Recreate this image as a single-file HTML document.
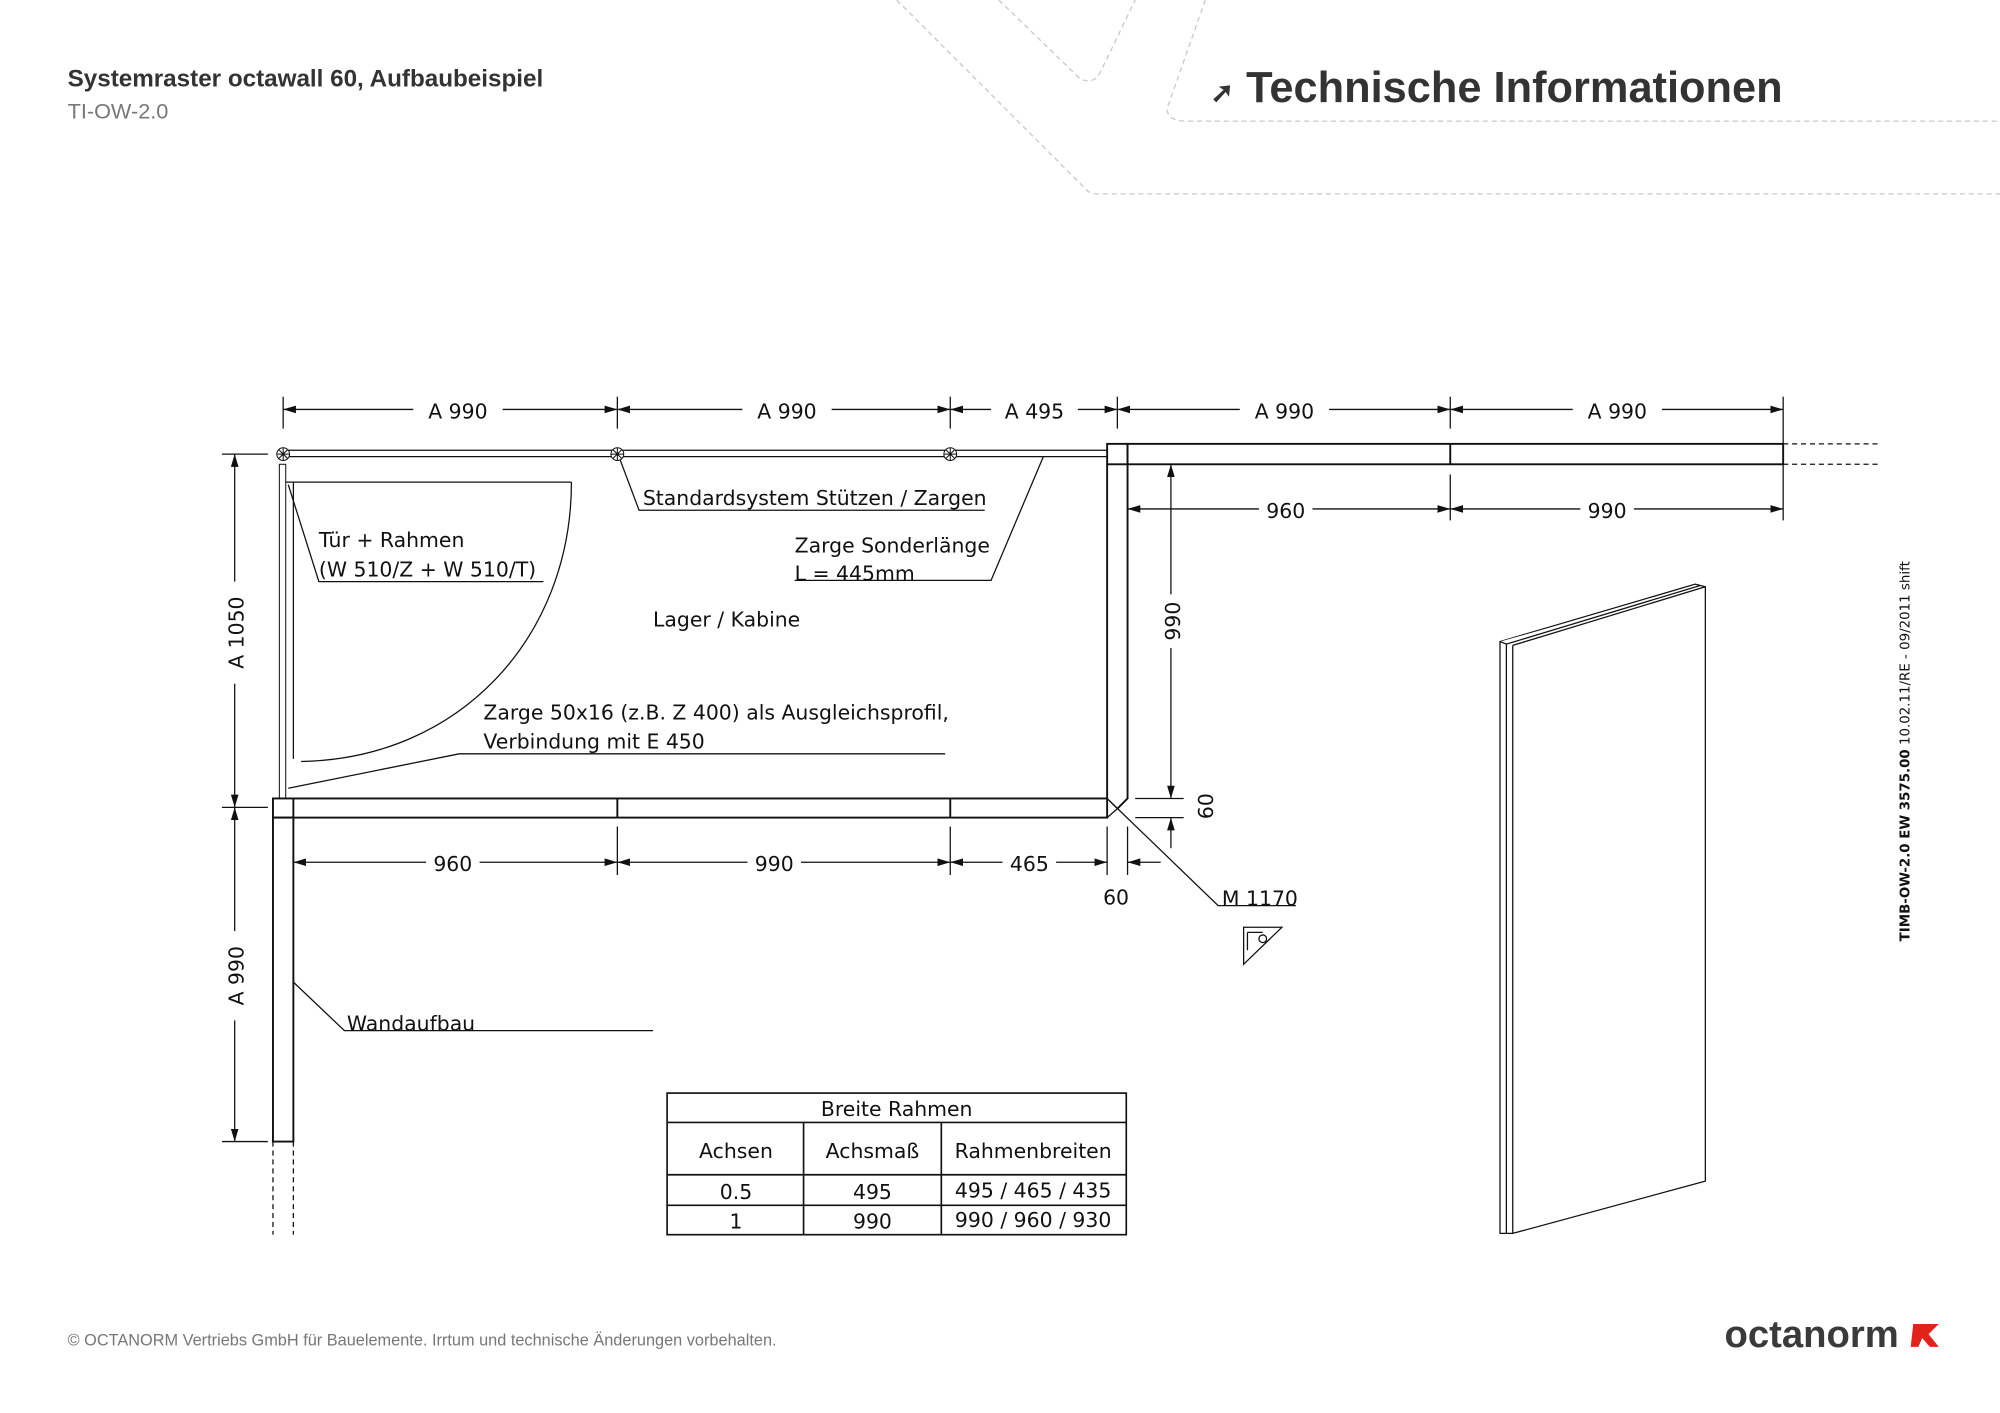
<!DOCTYPE html>
<html><head><meta charset="utf-8"><style>
html,body{margin:0;padding:0;background:#fff}
svg{display:block}
text{font-family:"DejaVu Sans","Liberation Sans",sans-serif;fill:#111}
.d{font-size:16px}
</style></head><body>
<svg width="2000" height="1413" viewBox="0 0 1568 1107.8" xmlns="http://www.w3.org/2000/svg">
<defs>
<marker id="a" viewBox="0 0 10 6" refX="10" refY="3" markerWidth="10" markerHeight="6" orient="auto-start-reverse" markerUnits="userSpaceOnUse"><path d="M0,0 L10,3 L0,6 z" fill="#111"/></marker>
</defs>
<g fill="none" stroke="#c8c8c8" stroke-width="1" stroke-dasharray="4,3">
<path d="M703,0 L853,150 Q856,152 860,152 L1568,152"/>
<path d="M783,0 L845,60 Q855,68 862,58 L890,0"/>
<path d="M945,0 L915,85 Q915,95 930,95 L1568,95"/>
</g>
<text x="53" y="68" style="font-family:'Liberation Sans',sans-serif;font-weight:bold;font-size:19px;fill:#333">Systemraster octawall 60, Aufbaubeispiel</text>
<text x="53" y="93" style="font-family:'Liberation Sans',sans-serif;font-size:17px;fill:#777">TI-OW-2.0</text>
<text x="949" y="80" style="font-family:'Liberation Sans',sans-serif;font-weight:bold;font-size:22px;fill:#333">➚</text>
<text x="977" y="80" style="font-family:'Liberation Sans',sans-serif;font-weight:bold;font-size:34px;fill:#333">Technische Informationen</text>

<g stroke="#111" stroke-width="1" fill="none">
<line x1="222" y1="311" x2="222" y2="336"/><line x1="484" y1="311" x2="484" y2="336"/><line x1="745" y1="311" x2="745" y2="336"/><line x1="876" y1="311" x2="876" y2="336"/><line x1="1137" y1="311" x2="1137" y2="336"/><line x1="1398" y1="311" x2="1398" y2="408"/>
<line x1="222" y1="321" x2="484" y2="321" marker-start="url(#a)" marker-end="url(#a)"/>
<line x1="484" y1="321" x2="745" y2="321" marker-start="url(#a)" marker-end="url(#a)"/>
<line x1="745" y1="321" x2="876" y2="321" marker-start="url(#a)" marker-end="url(#a)"/>
<line x1="876" y1="321" x2="1137" y2="321" marker-start="url(#a)" marker-end="url(#a)"/>
<line x1="1137" y1="321" x2="1398" y2="321" marker-start="url(#a)" marker-end="url(#a)"/>
<line x1="222" y1="353" x2="868" y2="353"/><line x1="222" y1="358" x2="868" y2="358"/>
<rect x="868" y="348" width="16" height="16" stroke-width="1.5"/>
<rect x="884" y="348" width="514" height="16" stroke-width="1.5"/>
<line x1="1137" y1="348" x2="1137" y2="364" stroke-width="1.5"/>
<path d="M1398,348 H1472 M1398,364 H1472" stroke-dasharray="4,3"/>
<path d="M868,364 V626 M884,364 V626 L876,634" stroke-width="1.5"/>
<path d="M868,626 L876,634 L868,641"/>
<rect x="214" y="626" width="654" height="15" stroke-width="1.5"/>
<line x1="484" y1="626" x2="484" y2="641" stroke-width="1.5"/><line x1="745" y1="626" x2="745" y2="641" stroke-width="1.5"/>
<line x1="230" y1="626" x2="230" y2="641" stroke-width="1.5"/>
<rect x="214" y="641" width="16" height="254" stroke-width="1.5"/>
<path d="M214,895 V968 M230,895 V968" stroke-dasharray="4,3"/>
<line x1="230" y1="648" x2="230" y2="686"/><line x1="484" y1="648" x2="484" y2="686"/><line x1="745" y1="648" x2="745" y2="686"/><line x1="868" y1="648" x2="868" y2="686"/><line x1="884" y1="648" x2="884" y2="686"/>
<line x1="230" y1="676" x2="484" y2="676" marker-start="url(#a)" marker-end="url(#a)"/>
<line x1="484" y1="676" x2="745" y2="676" marker-start="url(#a)" marker-end="url(#a)"/>
<line x1="745" y1="676" x2="868" y2="676" marker-start="url(#a)" marker-end="url(#a)"/>
<line x1="910" y1="676" x2="884" y2="676" marker-end="url(#a)"/>
<line x1="884" y1="372" x2="884" y2="408"/><line x1="1137" y1="372" x2="1137" y2="408"/>
<line x1="884" y1="399" x2="1137" y2="399" marker-start="url(#a)" marker-end="url(#a)"/>
<line x1="1137" y1="399" x2="1398" y2="399" marker-start="url(#a)" marker-end="url(#a)"/>
<line x1="890" y1="364" x2="928" y2="364"/><line x1="890" y1="626" x2="928" y2="626"/><line x1="890" y1="641" x2="928" y2="641"/>
<line x1="918" y1="364" x2="918" y2="626" marker-start="url(#a)" marker-end="url(#a)"/>
<line x1="918" y1="665" x2="918" y2="641" marker-end="url(#a)"/>
<line x1="174" y1="356" x2="210" y2="356"/><line x1="174" y1="633" x2="210" y2="633"/><line x1="174" y1="895" x2="210" y2="895"/>
<line x1="184" y1="356" x2="184" y2="633" marker-start="url(#a)" marker-end="url(#a)"/>
<line x1="184" y1="633" x2="184" y2="895" marker-start="url(#a)" marker-end="url(#a)"/>
<rect x="219" y="364" width="5" height="262" stroke-width="0.8"/>
<line x1="224" y1="378" x2="448" y2="378"/>
<line x1="230" y1="378" x2="230" y2="595"/>
<path d="M448,378 C448,500 360,595 236,597"/>
<path d="M226,380 L250,456 H426"/>
<path d="M486,360 L501,400 H772"/>
<path d="M818,358 L777,455 H623"/>
<path d="M226,618 L360,591 H741"/>
<path d="M870,628 L955,710 H1016"/>
<path d="M230,770 L270,808 H512"/>
<path d="M975,727 V756 L1005,727 Z"/>
<path d="M978,731 H990 M978,731 V745" />
<circle cx="990" cy="736" r="3"/>
</g>
<g stroke="#111" stroke-width="0.8" fill="#fff">
<circle cx="222" cy="356" r="5"/><circle cx="484" cy="356" r="5"/><circle cx="745" cy="356" r="5"/>
<path d="M217,356H227M222,351V361M218.5,352.5L225.5,359.5M225.5,352.5L218.5,359.5M479,356H489M484,351V361M480.5,352.5L487.5,359.5M487.5,352.5L480.5,359.5M740,356H750M745,351V361M741.5,352.5L748.5,359.5M748.5,352.5L741.5,359.5"/>
</g>
<g class="d" text-anchor="middle">
<rect x="324" y="311" width="70" height="20" fill="#fff"/><text x="359" y="328">A  990</text>
<rect x="582" y="311" width="70" height="20" fill="#fff"/><text x="617" y="328">A  990</text>
<rect x="777" y="311" width="68" height="20" fill="#fff"/><text x="811" y="328">A  495</text>
<rect x="972" y="311" width="70" height="20" fill="#fff"/><text x="1007" y="328">A  990</text>
<rect x="1233" y="311" width="70" height="20" fill="#fff"/><text x="1268" y="328">A  990</text>
<rect x="987" y="389" width="42" height="20" fill="#fff"/><text x="1008" y="406">960</text>
<rect x="1239" y="389" width="42" height="20" fill="#fff"/><text x="1260" y="406">990</text>
<rect x="334" y="666" width="42" height="20" fill="#fff"/><text x="355" y="683">960</text>
<rect x="586" y="666" width="42" height="20" fill="#fff"/><text x="607" y="683">990</text>
<rect x="786" y="666" width="42" height="20" fill="#fff"/><text x="807" y="683">465</text>
<text x="875" y="709">60</text>
<rect x="908" y="466" width="20" height="42" fill="#fff"/><text transform="translate(925,487) rotate(-90)">990</text>
<text transform="translate(951,632) rotate(-90)">60</text>
<rect x="174" y="456" width="20" height="80" fill="#fff"/><text transform="translate(191,496) rotate(-90)">A  1050</text>
<rect x="174" y="730" width="20" height="70" fill="#fff"/><text transform="translate(191,765) rotate(-90)">A  990</text>
</g>
<g class="d">
<text x="250" y="429">Tür + Rahmen</text>
<text x="250" y="452">(W 510/Z + W 510/T)</text>
<text x="504" y="396">Standardsystem Stützen / Zargen</text>
<text x="623" y="433">Zarge Sonderlänge</text>
<text x="623" y="455">L = 445mm</text>
<text x="512" y="491">Lager / Kabine</text>
<text x="379" y="564">Zarge 50x16 (z.B. Z 400) als Ausgleichsprofil,</text>
<text x="379" y="587">Verbindung mit E 450</text>
<text x="958" y="710">M 1170</text>
<text x="272" y="808">Wandaufbau</text>
</g>
<g stroke="#111" stroke-width="1.3" fill="none">
<rect x="523" y="857" width="360" height="111"/>
<line x1="523" y1="880" x2="883" y2="880"/><line x1="523" y1="921" x2="883" y2="921"/><line x1="523" y1="945" x2="883" y2="945"/>
<line x1="630" y1="880" x2="630" y2="968"/><line x1="738" y1="880" x2="738" y2="968"/>
</g>
<g class="d" text-anchor="middle">
<text x="703" y="875">Breite Rahmen</text>
<text x="577" y="908">Achsen</text><text x="684" y="908">Achsmaß</text><text x="810" y="908">Rahmenbreiten</text>
<text x="577" y="940">0.5</text><text x="684" y="940">495</text><text x="810" y="939">495 / 465 / 435</text>
<text x="577" y="963">1</text><text x="684" y="963">990</text><text x="810" y="962">990 / 960 / 930</text>
</g>
<g stroke="#111" stroke-width="1" fill="#fff">
<path d="M1176,503 L1329,458 L1337,460 L1337,926 L1186,967 L1176,967 Z"/>
<path d="M1186,506 L1337,460 M1186,506 V967 M1181,505 V967 M1176,503 L1181,505 L1333,459"/>
</g>
<text transform="translate(1497,738) rotate(-90)" style="font-size:10.5px"><tspan font-weight="bold">TIMB-OW-2.0  EW 3575.00</tspan>  10.02.11/RE - 09/2011 shift</text>
<text x="53" y="1055" style="font-family:'Liberation Sans',sans-serif;font-size:12.8px;fill:#777">© OCTANORM Vertriebs GmbH für Bauelemente. Irrtum und technische Änderungen vorbehalten.</text>
<text x="1352" y="1056" style="font-family:'Liberation Sans',sans-serif;font-weight:bold;font-size:30px;fill:#3a3a3a">octanorm</text>
<path d="M1500,1038 H1520 L1512,1046 L1520,1056 H1513 L1507,1049 L1504,1056 H1498 Z" fill="#e2231a"/>
</svg>
</body></html>
